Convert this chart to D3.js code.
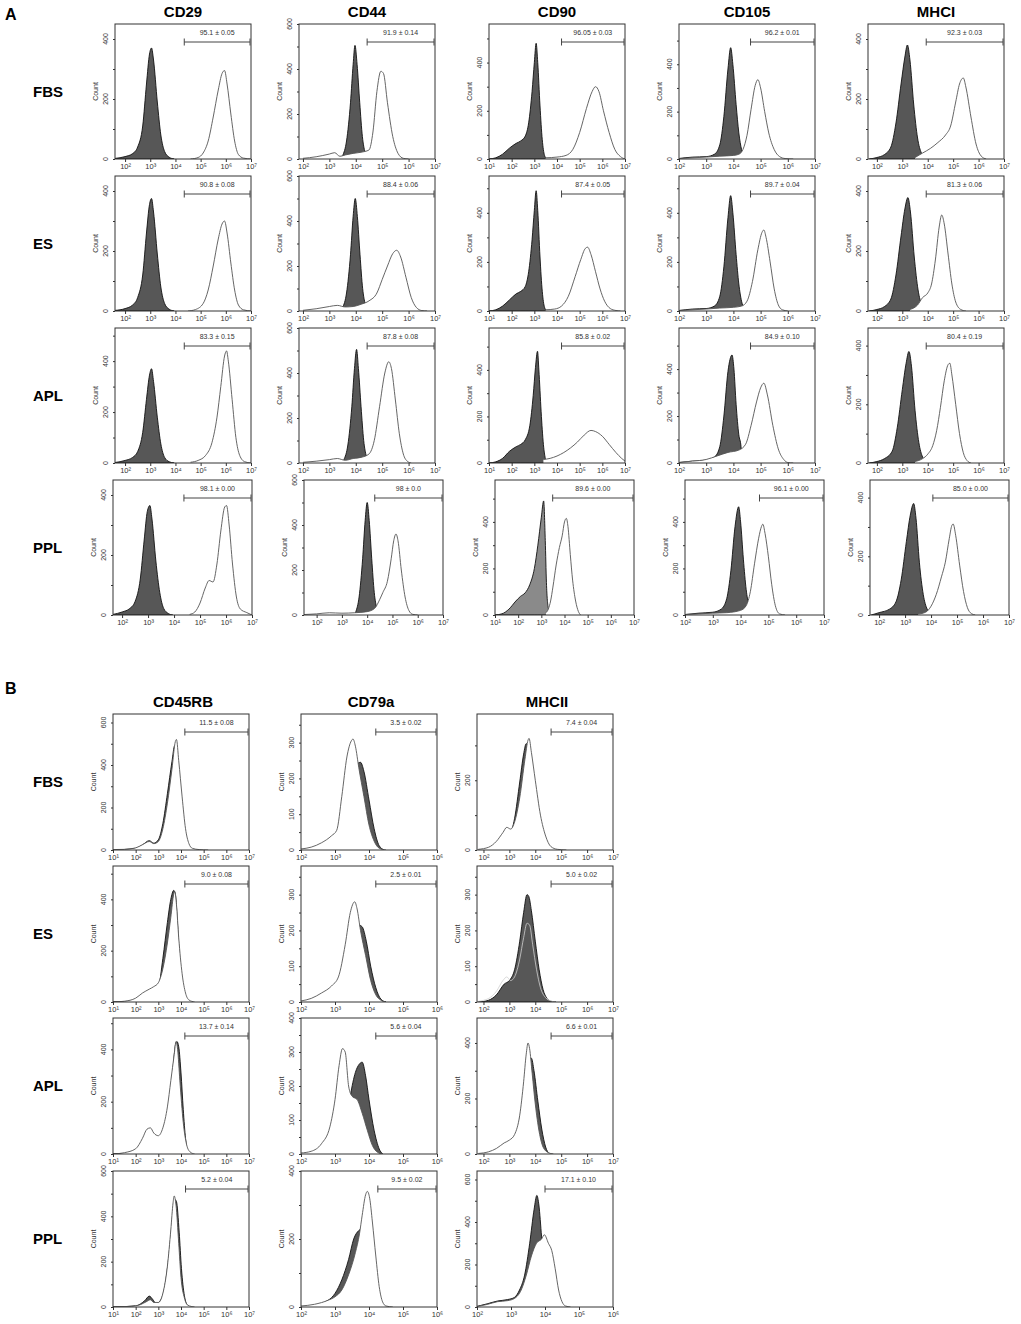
<!DOCTYPE html>
<html>
<head>
<meta charset="utf-8">
<script src="https://cdn.jsdelivr.net/npm/d3@7"></script>
<style>
  body { margin: 0; background: #fff; }
  svg text { font-family: "Liberation Sans", Arial, sans-serif; }
</style>
</head>
<body>
<div id="graphic"></div>
<script>
// flow cytometry overlays, panel A (positive markers) and panel B (negative markers)

var markersA = ["CD29", "CD44", "CD90", "CD105", "MHCI"];
var markersB = ["CD45RB", "CD79a", "MHCII"];
var conditions = ["FBS", "ES", "APL", "PPL"];

// gate labels, by row (FBS, ES, APL, PPL)
var gateTextA = [
    ["95.1 ± 0.05", "91.9 ± 0.14", "96.05 ± 0.03", "96.2 ± 0.01", "92.3 ± 0.03"],
    ["90.8 ± 0.08", "88.4 ± 0.06", "87.4 ± 0.05", "89.7 ± 0.04", "81.3 ± 0.06"],
    ["83.3 ± 0.15", "87.8 ± 0.08", "85.8 ± 0.02", "84.9 ± 0.10", "80.4 ± 0.19"],
    ["98.1 ± 0.00", "98 ± 0.0", "89.6 ± 0.00", "96.1 ± 0.00", "85.0 ± 0.00"]
];
var gateTextB = [
    ["11.5 ± 0.08", "3.5 ± 0.02", "7.4 ± 0.04"],
    ["9.0 ± 0.08", "2.5 ± 0.01", "5.0 ± 0.02"],
    ["13.7 ± 0.14", "5.6 ± 0.04", "6.6 ± 0.01"],
    ["5.2 ± 0.04", "9.5 ± 0.02", "17.1 ± 0.10"]
];

// gate start (log10 fluorescence), by row
var gateStartA = [
    [4.35, 4.43, 4.2, 4.63, 3.94],
    [4.35, 4.43, 4.2, 4.63, 3.94],
    [4.35, 4.43, 4.2, 4.63, 3.94],
    [4.38, 4.3, 3.49, 4.68, 4.07]
];
var gateStartB = [
    [4.17, 4.2, 4.61],
    [4.17, 4.2, 4.61],
    [4.17, 4.2, 4.61],
    [4.2, 4.26, 4.0]
];

// x axis range in decades (log10), by row
var xDecA = [
    [[1.6, 7], [1.85, 7], [1, 7], [2, 7], [1.65, 7]],
    [[1.6, 7], [1.85, 7], [1, 7], [2, 7], [1.65, 7]],
    [[1.6, 7], [1.85, 7], [1, 7], [2, 7], [1.65, 7]],
    [[1.65, 7], [1.5, 7], [1, 7], [2, 7], [1.65, 7]]
];
var xDecB = [
    [[1, 7], [2, 6], [1.75, 7]],
    [[1, 7], [2, 6], [1.75, 7]],
    [[1, 7], [2, 6], [1.75, 7]],
    [[1, 7], [2, 6], [2, 6]]
];

// count axis maximum and label step, by row
var yMaxA = [
    [450, 600, 560, 570, 450],
    [450, 600, 550, 550, 450],
    [530, 600, 580, 575, 460],
    [450, 600, 580, 580, 460]
];
var yMaxB = [
    [640, 380, 390],
    [530, 380, 380],
    [520, 400, 490],
    [600, 400, 640]
];
var yStepB = [
    [200, 100, 200],
    [200, 100, 100],
    [200, 100, 200],
    [200, 200, 200]
];

// histograms: [log10 fluorescence, count], one list per row (FBS, ES, APL, PPL)
var cd29Ctrl = [
    [[1.6,2],[2.0,8],[2.3,18],[2.5,40],[2.7,110],[2.85,250],[2.97,350],[3.05,370],[3.13,330],[3.28,190],[3.42,80],[3.57,25],[3.75,6],[3.95,0]],
    [[1.6,2],[2.0,8],[2.3,20],[2.5,45],[2.7,120],[2.85,260],[2.97,355],[3.05,375],[3.13,330],[3.28,190],[3.42,80],[3.57,25],[3.75,6],[3.95,0]],
    [[1.6,2],[2.0,10],[2.3,22],[2.5,45],[2.7,120],[2.85,250],[2.97,345],[3.05,370],[3.13,320],[3.28,180],[3.42,75],[3.57,22],[3.75,5],[3.95,0]],
    [[1.65,2],[2.0,10],[2.3,22],[2.5,45],[2.7,120],[2.85,250],[2.97,345],[3.07,365],[3.15,320],[3.3,180],[3.45,75],[3.6,22],[3.78,5],[3.95,0]]
];
var cd29Stain = [
    [[4.6,0],[4.9,5],[5.1,20],[5.3,60],[5.5,140],[5.7,230],[5.85,285],[5.95,295],[6.05,250],[6.2,150],[6.35,60],[6.5,15],[6.7,3],[7,0]],
    [[4.5,0],[4.8,5],[5.1,25],[5.3,70],[5.5,150],[5.7,240],[5.85,290],[5.95,300],[6.05,260],[6.2,160],[6.35,70],[6.5,20],[6.7,4],[7,0]],
    [[4.6,3],[4.9,10],[5.2,30],[5.45,80],[5.65,180],[5.8,300],[5.95,420],[6.03,440],[6.1,400],[6.25,250],[6.4,100],[6.55,30],[6.75,5],[7,0]],
    [[4.6,2],[4.8,10],[5.0,40],[5.2,90],[5.35,115],[5.5,110],[5.65,170],[5.8,280],[5.95,360],[6.02,365],[6.12,300],[6.25,170],[6.4,60],[6.55,20],[6.8,8],[7,0]]
];
var cd44Ctrl = [
    [[3.4,0],[3.5,15],[3.65,80],[3.8,250],[3.9,420],[3.97,505],[4.05,420],[4.15,250],[4.25,100],[4.35,30],[4.45,5],[4.55,0]],
    [[3.4,0],[3.5,15],[3.65,80],[3.8,250],[3.9,420],[3.98,500],[4.06,420],[4.16,250],[4.26,100],[4.36,30],[4.46,5],[4.56,0]],
    [[3.45,0],[3.55,15],[3.7,80],[3.85,250],[3.95,420],[4.03,505],[4.1,420],[4.2,250],[4.3,100],[4.4,30],[4.5,5],[4.6,0]],
    [[3.45,0],[3.55,15],[3.68,80],[3.82,250],[3.92,420],[4.0,500],[4.08,420],[4.18,250],[4.28,100],[4.38,30],[4.48,5],[4.58,0]]
];
var cd44Stain = [
    [[2.0,3],[2.5,10],[3.0,22],[3.2,28],[3.4,12],[3.6,18],[3.9,25],[4.2,30],[4.5,40],[4.65,120],[4.8,300],[4.95,390],[5.05,380],[5.2,250],[5.4,100],[5.6,25],[5.8,3],[6.0,0]],
    [[2.0,3],[2.5,10],[3.0,20],[3.3,25],[3.6,18],[3.9,20],[4.2,30],[4.5,45],[4.8,80],[5.0,140],[5.2,200],[5.4,255],[5.55,270],[5.7,240],[5.9,150],[6.1,60],[6.3,15],[6.5,2],[6.7,0]],
    [[2.0,3],[2.5,8],[3.0,15],[3.3,20],[3.6,12],[3.9,20],[4.2,25],[4.5,40],[4.7,100],[4.9,250],[5.1,400],[5.25,450],[5.35,420],[5.5,280],[5.65,130],[5.8,40],[5.95,8],[6.1,0]],
    [[1.5,2],[2.0,5],[2.5,10],[3.0,8],[3.5,10],[4.0,15],[4.3,30],[4.5,70],[4.62,100],[4.8,150],[4.95,250],[5.05,330],[5.14,360],[5.22,330],[5.35,200],[5.5,80],[5.65,20],[5.8,3],[6.0,0]]
];
var cd90Ctrl = [
    [[1,0],[1.3,5],[1.6,20],[1.9,45],[2.2,65],[2.4,75],[2.6,95],[2.75,150],[2.9,280],[3.0,400],[3.08,480],[3.15,400],[3.25,220],[3.35,80],[3.45,15],[3.55,0]],
    [[1,0],[1.3,5],[1.6,20],[1.9,45],[2.2,70],[2.4,80],[2.6,100],[2.75,160],[2.9,290],[3.0,410],[3.08,490],[3.15,410],[3.25,220],[3.35,80],[3.45,15],[3.55,0]],
    [[1,0],[1.3,5],[1.6,20],[1.9,50],[2.2,70],[2.4,80],[2.6,100],[2.8,160],[2.95,290],[3.05,410],[3.14,480],[3.2,400],[3.3,220],[3.4,80],[3.5,15],[3.6,0]],
    [[1,0],[1.3,5],[1.6,25],[1.9,60],[2.1,80],[2.3,95],[2.5,130],[2.7,200],[2.85,300],[3.0,420],[3.1,490],[3.17,320],[3.22,140],[3.3,30],[3.4,0]]
];
var cd90Stain = [
    [[3.5,5],[4.0,8],[4.4,15],[4.7,40],[5.0,110],[5.3,210],[5.55,280],[5.7,300],[5.85,280],[6.05,200],[6.3,110],[6.55,40],[6.8,10],[7,0]],
    [[3.5,5],[3.9,8],[4.2,20],[4.5,60],[4.8,140],[5.05,210],[5.25,255],[5.35,260],[5.5,230],[5.7,160],[5.9,90],[6.1,40],[6.35,10],[6.6,2],[6.8,0]],
    [[3.4,15],[3.7,20],[4.0,30],[4.3,45],[4.6,65],[4.9,90],[5.2,120],[5.5,140],[5.7,135],[6.0,115],[6.3,80],[6.6,45],[6.85,20],[7,8]],
    [[3.2,10],[3.3,25],[3.4,60],[3.5,120],[3.64,215],[3.78,290],[3.9,340],[4.0,400],[4.08,415],[4.15,380],[4.25,260],[4.35,150],[4.48,60],[4.6,15],[4.7,0]]
];
var cd105Ctrl = [
    [[2,2],[2.5,8],[3.0,10],[3.3,20],[3.5,60],[3.65,180],[3.8,380],[3.9,470],[3.98,400],[4.1,230],[4.2,110],[4.3,40],[4.4,8],[4.5,0]],
    [[2,2],[2.5,8],[3.0,10],[3.3,20],[3.5,60],[3.65,180],[3.8,380],[3.9,470],[3.98,400],[4.1,230],[4.2,110],[4.3,40],[4.4,8],[4.5,0]],
    [[2,2],[2.5,8],[3.0,12],[3.3,25],[3.5,70],[3.65,200],[3.8,390],[3.95,460],[4.02,400],[4.1,250],[4.2,120],[4.28,70],[4.32,0]],
    [[2,2],[2.5,8],[3.0,12],[3.3,25],[3.5,70],[3.65,190],[3.8,380],[3.93,465],[4.0,400],[4.1,240],[4.2,110],[4.3,40],[4.4,5],[4.5,0]]
];
var cd105Stain = [
    [[2,2],[3,8],[3.5,12],[4.0,15],[4.2,20],[4.35,40],[4.5,100],[4.65,210],[4.8,310],[4.9,335],[5.0,300],[5.15,200],[5.3,110],[5.5,40],[5.7,10],[5.9,2],[6.2,0]],
    [[2,2],[3,8],[3.5,12],[4.0,15],[4.3,20],[4.5,40],[4.7,120],[4.9,250],[5.05,320],[5.12,330],[5.2,300],[5.35,200],[5.5,90],[5.65,25],[5.8,5],[6.0,0]],
    [[2,2],[2.5,8],[3.0,15],[3.4,30],[3.8,45],[4.2,55],[4.45,80],[4.65,160],[4.85,260],[5.0,320],[5.12,340],[5.25,290],[5.45,160],[5.65,60],[5.85,15],[6.0,2],[6.2,0]],
    [[2,2],[3,8],[3.5,10],[4.0,20],[4.2,40],[4.35,100],[4.5,220],[4.65,330],[4.75,380],[4.8,390],[4.88,350],[5.0,250],[5.12,130],[5.25,40],[5.4,5],[5.6,0]]
];
var mhciCtrl = [
    [[1.7,0],[2.0,5],[2.3,15],[2.55,40],[2.75,120],[2.95,250],[3.1,340],[3.2,380],[3.3,330],[3.45,180],[3.6,70],[3.75,20],[3.9,5],[4.0,0]],
    [[1.7,0],[2.0,5],[2.3,15],[2.55,40],[2.75,120],[2.95,250],[3.1,340],[3.22,378],[3.32,330],[3.47,180],[3.62,70],[3.77,20],[3.92,5],[4.05,0]],
    [[1.7,0],[2.0,5],[2.3,15],[2.6,40],[2.8,120],[3.0,250],[3.15,340],[3.26,380],[3.36,330],[3.5,180],[3.65,70],[3.8,20],[3.95,5],[4.05,0]],
    [[1.7,0],[2.0,8],[2.4,20],[2.65,45],[2.85,120],[3.05,250],[3.2,340],[3.33,380],[3.42,330],[3.55,180],[3.7,70],[3.85,20],[4.0,5],[4.1,0]]
];
var mhciStain = [
    [[3.5,5],[3.8,20],[4.1,35],[4.4,55],[4.7,80],[4.9,110],[5.1,190],[5.25,250],[5.4,270],[5.5,240],[5.7,140],[5.9,50],[6.1,10],[6.3,0]],
    [[3.3,5],[3.6,20],[3.8,45],[4.0,60],[4.15,90],[4.3,170],[4.45,280],[4.55,320],[4.65,290],[4.8,190],[4.95,90],[5.1,30],[5.3,5],[5.5,0]],
    [[3.5,5],[3.8,15],[4.0,30],[4.2,60],[4.35,110],[4.5,190],[4.65,280],[4.8,335],[4.87,340],[4.95,300],[5.1,200],[5.25,100],[5.4,35],[5.55,8],[5.7,0]],
    [[3.5,3],[3.8,10],[4.0,30],[4.2,70],[4.4,130],[4.55,180],[4.7,260],[4.8,305],[4.85,310],[4.95,270],[5.1,170],[5.25,80],[5.4,25],[5.55,5],[5.7,0]]
];
var cd45rbCtrl = [
    [[1,0],[2.0,8],[2.3,24],[2.6,44],[2.8,32],[3.0,48],[3.2,125],[3.4,265],[3.6,415],[3.72,490],[3.8,400],[3.9,200],[4.0,60],[4.1,10],[4.2,0]],
    [[1,0],[2.0,5],[2.4,15],[2.7,25],[3.0,55],[3.2,170],[3.4,310],[3.55,400],[3.68,435],[3.75,420],[3.85,300],[3.95,150],[4.1,40],[4.25,5],[4.4,0]],
    [[1,0],[2.0,5],[2.5,15],[3.0,30],[3.3,90],[3.5,200],[3.65,330],[3.75,415],[3.82,430],[3.9,410],[4.0,310],[4.1,170],[4.2,60],[4.3,10],[4.4,0]],
    [[1,0],[2.0,5],[2.4,28],[2.6,48],[2.75,34],[2.9,15],[3.1,30],[3.3,100],[3.5,260],[3.65,420],[3.72,475],[3.8,465],[3.92,330],[4.02,170],[4.15,50],[4.3,5],[4.4,0]]
];
var cd45rbStain = [
    [[1,2],[1.5,3],[2.0,10],[2.3,25],[2.6,40],[2.8,30],[3.0,40],[3.2,100],[3.4,220],[3.6,380],[3.75,510],[3.8,520],[3.9,420],[4.05,250],[4.2,100],[4.35,30],[4.5,8],[4.8,2],[5.2,0]],
    [[1,0],[1.5,3],[2.0,15],[2.3,35],[2.6,50],[2.8,60],[3.0,75],[3.2,130],[3.4,230],[3.55,330],[3.68,420],[3.73,430],[3.8,380],[3.9,250],[4.05,110],[4.2,35],[4.35,8],[4.6,0]],
    [[1,0],[1.5,5],[2.0,20],[2.3,60],[2.5,95],[2.65,100],[2.8,80],[3.0,70],[3.2,100],[3.4,180],[3.55,280],[3.7,380],[3.78,430],[3.85,400],[3.95,280],[4.1,120],[4.25,35],[4.4,8],[4.6,0]],
    [[1,0],[1.8,3],[2.2,10],[2.5,25],[2.65,32],[2.8,20],[3.0,20],[3.2,60],[3.4,180],[3.55,340],[3.65,460],[3.7,490],[3.78,450],[3.9,280],[4.0,130],[4.15,40],[4.3,8],[4.6,0]]
];
var cd79aCtrl = [
    [[2.3,0],[2.7,5],[3.0,20],[3.3,100],[3.5,200],[3.65,240],[3.75,245],[3.85,220],[4.0,140],[4.15,60],[4.3,12],[4.45,0]],
    [[2.4,0],[2.8,5],[3.1,25],[3.35,100],[3.55,180],[3.7,215],[3.8,210],[3.92,170],[4.05,100],[4.2,40],[4.35,8],[4.5,0]],
    [[2.5,0],[3.0,10],[3.3,60],[3.45,170],[3.6,240],[3.72,265],[3.8,270],[3.9,230],[4.0,160],[4.15,70],[4.3,15],[4.4,0]],
    [[2.2,0],[2.6,10],[3.0,40],[3.2,80],[3.4,140],[3.55,200],[3.7,225],[3.8,230],[3.9,150],[4.0,60],[4.1,10],[4.2,0]]
];
var cd79aStain = [
    [[2.0,3],[2.3,8],[2.6,20],[2.9,40],[3.05,55],[3.2,150],[3.35,260],[3.48,305],[3.53,310],[3.6,290],[3.7,230],[3.85,150],[4.0,70],[4.15,25],[4.3,5],[4.5,0]],
    [[2.0,3],[2.3,10],[2.6,25],[2.9,45],[3.1,70],[3.3,160],[3.45,250],[3.58,280],[3.65,260],[3.75,200],[3.9,130],[4.05,60],[4.2,20],[4.35,5],[4.5,0]],
    [[2.0,3],[2.3,8],[2.6,30],[2.85,80],[3.0,160],[3.12,260],[3.22,310],[3.3,300],[3.4,200],[3.5,170],[3.65,160],[3.8,120],[3.95,70],[4.1,25],[4.25,5],[4.4,0]],
    [[2.0,3],[2.4,8],[2.8,20],[3.0,30],[3.2,50],[3.4,95],[3.6,160],[3.72,215],[3.8,270],[3.9,330],[3.95,340],[4.02,320],[4.1,250],[4.2,150],[4.3,60],[4.4,15],[4.5,3],[4.7,0]]
];
var mhciiCtrl = [
    [[1.8,0],[2.3,5],[2.7,20],[3.0,40],[3.2,90],[3.4,195],[3.55,275],[3.65,305],[3.72,300],[3.85,230],[4.0,130],[4.2,50],[4.4,15],[4.6,3],[4.8,0]],
    [[1.8,0],[2.2,5],[2.5,20],[2.8,50],[3.0,60],[3.2,90],[3.4,170],[3.55,250],[3.68,300],[3.75,295],[3.85,255],[4.0,170],[4.15,90],[4.3,35],[4.45,10],[4.6,2],[4.8,0]],
    [[2.2,0],[2.6,10],[3.0,30],[3.3,80],[3.5,180],[3.65,290],[3.75,340],[3.85,345],[3.95,300],[4.1,190],[4.25,90],[4.4,25],[4.55,0]],
    [[2.0,3],[2.3,15],[2.6,28],[2.9,35],[3.1,45],[3.25,80],[3.4,150],[3.55,300],[3.68,460],[3.76,525],[3.82,480],[3.9,330],[3.97,200],[4.05,50],[4.12,0]]
];
var mhciiStain = [
    [[1.8,2],[2.2,8],[2.5,25],[2.75,50],[2.9,65],[3.05,60],[3.2,80],[3.4,150],[3.6,260],[3.72,315],[3.76,320],[3.85,280],[4.0,200],[4.2,100],[4.4,40],[4.6,10],[4.85,2],[5.2,0]],
    [[1.8,2],[2.2,10],[2.5,30],[2.75,60],[2.9,70],[3.05,60],[3.2,70],[3.4,120],[3.55,180],[3.68,220],[3.78,215],[3.9,160],[4.05,90],[4.2,40],[4.4,12],[4.6,3],[4.8,0]],
    [[1.8,2],[2.2,8],[2.5,20],[2.8,40],[3.0,50],[3.2,70],[3.4,140],[3.55,260],[3.65,360],[3.72,400],[3.78,380],[3.88,290],[4.0,180],[4.15,80],[4.3,25],[4.5,5],[4.7,0]],
    [[2.0,2],[2.3,12],[2.6,25],[2.9,30],[3.1,40],[3.3,80],[3.45,150],[3.6,240],[3.75,300],[3.9,320],[3.98,340],[4.1,300],[4.2,265],[4.3,180],[4.4,80],[4.5,25],[4.6,5],[4.75,0]]
];

var ctrlA = [cd29Ctrl, cd44Ctrl, cd90Ctrl, cd105Ctrl, mhciCtrl];
var stainA = [cd29Stain, cd44Stain, cd90Stain, cd105Stain, mhciStain];
var ctrlB = [cd45rbCtrl, cd79aCtrl, mhciiCtrl];
var stainB = [cd45rbStain, cd79aStain, mhciiStain];

// layout
var colLeftA = [115, 299, 489, 679, 868],
    colLeftA4 = [113, 304, 495, 685, 870],
    rowTopA = [24, 176, 328, 480],
    colLeftB = [113, 301, 477],
    rowTopB = [714, 866, 1018, 1171];

var svg = d3.select("#graphic").append("svg")
    .attr("width", 1021)
    .attr("height", 1324)
    .style("background", "#fff");

var sup = { "1": "\u00b9", "2": "\u00b2", "3": "\u00b3", "4": "\u2074", "5": "\u2075", "6": "\u2076", "7": "\u2077", "8": "\u2078" };
var panelId = 0;

function drawPanel(p) {
    var g = svg.append("g").attr("transform", "translate(" + p.left + "," + p.top + ")");
    var x = d3.scaleLog().domain([Math.pow(10, p.xd[0]), Math.pow(10, p.xd[1])]).range([0, p.w]);
    var y = d3.scaleLinear().domain([0, p.ymax]).range([p.h, 0]);
    var id = "clip" + (panelId++);

    g.append("clipPath").attr("id", id)
        .append("rect").attr("width", p.w).attr("height", p.h);

    var plot = g.append("g").attr("clip-path", "url(#" + id + ")");

    var area = d3.area()
        .x(function (d) { return x(Math.pow(10, d[0])); })
        .y0(y(0))
        .y1(function (d) { return y(d[1]); })
        .curve(d3.curveMonotoneX);
    var line = d3.line()
        .x(function (d) { return x(Math.pow(10, d[0])); })
        .y(function (d) { return y(d[1]); })
        .curve(d3.curveMonotoneX);

    function ctrlPath() {
        plot.append("path")
            .datum(p.ctrl)
            .attr("d", area)
            .attr("fill", p.ctrlFill || "#575757")
            .attr("stroke", "#111")
            .attr("stroke-width", 0.9);
    }

    if (p.ctrlTop) {
        // control drawn over the sample, sample outline shows light on top
        ctrlPath();
        plot.append("path")
            .datum(p.stain)
            .attr("d", line)
            .attr("fill", "none")
            .attr("stroke", "#d0d0d0")
            .attr("stroke-width", 0.8);
    } else {
        ctrlPath();
        plot.append("path")
            .datum(p.stain)
            .attr("d", area)
            .attr("fill", "#fff")
            .attr("stroke", "none");
        plot.append("path")
            .datum(p.stain)
            .attr("d", line)
            .attr("fill", "none")
            .attr("stroke", "#555")
            .attr("stroke-width", 0.9);
    }

    // frame
    g.append("rect")
        .attr("width", p.w).attr("height", p.h)
        .attr("fill", "none")
        .attr("stroke", "#333")
        .attr("stroke-width", 1);

    // x axis: decades + minor ticks
    var lo = Math.ceil(p.xd[0] - 1e-9), hi = Math.floor(p.xd[1] + 1e-9);
    var majors = d3.range(lo, hi + 1).map(function (k) { return Math.pow(10, k); });
    var minors = [];
    for (var k = Math.floor(p.xd[0]); k < p.xd[1]; k++) {
        for (var m = 2; m <= 9; m++) {
            var v = m * Math.pow(10, k);
            if (Math.log10(v) > p.xd[0] && Math.log10(v) < p.xd[1]) minors.push(v);
        }
    }
    var xg = g.append("g").attr("transform", "translate(0," + p.h + ")");
    xg.call(d3.axisBottom(x).tickValues(minors).tickSize(2).tickFormat(""));
    xg.call(d3.axisBottom(x).tickValues(majors).tickSize(3)
        .tickFormat(function (d) { return "10" + sup[String(Math.round(Math.log10(d)))]; }));
    xg.select(".domain").remove();
    xg.selectAll("line").attr("stroke", "#333");
    xg.selectAll("text")
        .attr("font-size", 7.5)
        .attr("fill", "#333")
        .attr("dy", "0.55em");

    // y axis
    var yTicks = d3.range(0, p.ymax + 1, p.ystep);
    var yg = g.append("g");
    yg.call(d3.axisLeft(y).tickValues(d3.range(0, p.ymax + 1, p.ystep / 2)).tickSize(2).tickFormat(""));
    yg.select(".domain").remove();
    yg.selectAll("line").attr("stroke", "#333");
    yg.selectAll(".ylab")
        .data(yTicks)
        .enter().append("text")
        .attr("class", "ylab")
        .attr("transform", function (d) { return "translate(-7," + y(d) + ") rotate(-90)"; })
        .attr("text-anchor", "middle")
        .attr("font-size", 7)
        .attr("fill", "#333")
        .text(function (d) { return d; });
    g.append("text")
        .attr("transform", "translate(-17," + (p.h / 2) + ") rotate(-90)")
        .attr("text-anchor", "middle")
        .attr("font-size", 7)
        .attr("fill", "#333")
        .text("Count");

    // gate marker
    var gx0 = x(Math.pow(10, p.gate)), gx1 = x(Math.pow(10, p.xd[1])) - 1, gy = 18;
    var gate = g.append("g").attr("stroke", "#444").attr("stroke-width", 1);
    gate.append("line").attr("x1", gx0).attr("x2", gx1).attr("y1", gy).attr("y2", gy);
    gate.append("line").attr("x1", gx0).attr("x2", gx0).attr("y1", gy - 3.5).attr("y2", gy + 3.5);
    gate.append("line").attr("x1", gx1).attr("x2", gx1).attr("y1", gy - 3.5).attr("y2", gy + 3.5);
    g.append("text")
        .attr("x", (gx0 + gx1) / 2)
        .attr("y", gy - 7)
        .attr("text-anchor", "middle")
        .attr("font-size", 7)
        .attr("fill", "#333")
        .text(p.label);
}

// panel A
conditions.forEach(function (cond, r) {
    markersA.forEach(function (mk, c) {
        drawPanel({
            left: r === 3 ? colLeftA4[c] : colLeftA[c],
            top: rowTopA[r],
            w: r === 3 ? 139 : 136,
            h: 135,
            xd: xDecA[r][c],
            ymax: yMaxA[r][c],
            ystep: 200,
            ctrl: ctrlA[c][r],
            stain: stainA[c][r],
            ctrlFill: (r === 3 && c === 2) ? "#8a8a8a" : null,
            gate: gateStartA[r][c],
            label: gateTextA[r][c]
        });
    });
});

// panel B
conditions.forEach(function (cond, r) {
    markersB.forEach(function (mk, c) {
        drawPanel({
            left: colLeftB[c],
            top: rowTopB[r],
            w: 136,
            h: 136,
            xd: xDecB[r][c],
            ymax: yMaxB[r][c],
            ystep: yStepB[r][c],
            ctrl: ctrlB[c][r],
            stain: stainB[c][r],
            ctrlTop: (r === 1 && c === 2),
            gate: gateStartB[r][c],
            label: gateTextB[r][c]
        });
    });
});

// titles and row labels
var bold = function (sel) {
    return sel.attr("font-weight", "bold").attr("fill", "#000");
};
bold(svg.append("text").attr("x", 5).attr("y", 20).attr("font-size", 16).text("A"));
bold(svg.append("text").attr("x", 5).attr("y", 694).attr("font-size", 16).text("B"));

markersA.forEach(function (mk, c) {
    bold(svg.append("text")
        .attr("x", colLeftA[c] + 68).attr("y", 17)
        .attr("text-anchor", "middle").attr("font-size", 15)
        .text(mk));
});
markersB.forEach(function (mk, c) {
    bold(svg.append("text")
        .attr("x", colLeftB[c] + 70).attr("y", 707)
        .attr("text-anchor", "middle").attr("font-size", 15)
        .text(mk));
});
conditions.forEach(function (cond, r) {
    bold(svg.append("text").attr("x", 33).attr("y", rowTopA[r] + 73)
        .attr("font-size", 15).text(cond));
    bold(svg.append("text").attr("x", 33).attr("y", rowTopB[r] + 73)
        .attr("font-size", 15).text(cond));
});
</script>
</body>
</html>
